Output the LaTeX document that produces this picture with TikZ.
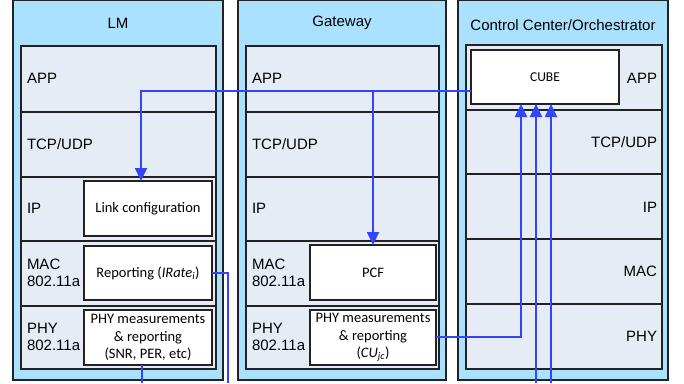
\documentclass[tikz,border=0pt]{standalone}
\usepackage{fontspec}
\setmainfont{Liberation Sans}
\newfontfamily\calibrifont{Carlito}
\usetikzlibrary{arrows.meta}
\definecolor{outerblue}{HTML}{AAE1FF}
\definecolor{innergray}{HTML}{E6ECF6}
\definecolor{connblue}{HTML}{3344FF}
\definecolor{edge}{HTML}{222222}
\tikzset{
  outerbox/.style={draw=edge, fill=outerblue, line width=1.3pt},
  rowbox/.style={draw=edge, fill=innergray, line width=1.3pt},
  lbl/.style={inner sep=0pt, outer sep=0pt, font=\fontsize{15pt}{17pt}\selectfont, align=left},
  rlbl/.style={lbl, anchor=east, align=right},
  ttl/.style={inner sep=0pt, font=\fontsize{15pt}{17pt}\selectfont},
  wbox/.style={draw=edge, fill=white, line width=1.3pt, inner sep=1pt, outer sep=0pt,
    align=center, font=\calibrifont\fontsize{14.5pt}{17.5pt}\selectfont},
  conn/.style={draw=connblue, line width=1.8pt},
  tip/.style={-{Triangle[length=13pt,width=12pt]}}
}
\begin{document}
\begin{tikzpicture}[x=1pt,y=-1pt]
\useasboundingbox (0,0) rectangle (684,383);
% outer columns
\draw[outerbox] (13,0.7) rectangle (223,380);
\draw[outerbox] (238,0.7) rectangle (446,380);
\draw[outerbox] (458,0.7) rectangle (668,380);
\node[ttl] (tlm) at (118,23) {LM};
\node[ttl] (tgw) at (342,23) {Gateway};
\node[ttl] (tcc) at (563,25) {Control Center/Orchestrator};
% LM rows
\draw[rowbox] (21,46) rectangle (216,112);
\draw[rowbox] (21,112) rectangle (216,177);
\draw[rowbox] (21,177) rectangle (216,241);
\draw[rowbox] (21,241) rectangle (216,306);
\draw[rowbox] (21,306) rectangle (216,369);
\node[lbl, anchor=west] (lmapp) at (27,78) {APP};
\node[lbl, anchor=west] (lmtcp) at (27,144) {TCP/UDP};
\node[lbl, anchor=west] (lmip) at (27,208) {IP};
\node[lbl, anchor=west] (lmmac) at (27,273) {MAC\\802.11a};
\node[lbl, anchor=west] (lmphyl) at (27,337) {PHY\\802.11a};
% Gateway rows
\draw[rowbox] (246,46) rectangle (439,112);
\draw[rowbox] (246,112) rectangle (439,177);
\draw[rowbox] (246,177) rectangle (439,241);
\draw[rowbox] (246,241) rectangle (439,306);
\draw[rowbox] (246,306) rectangle (439,369);
\node[lbl, anchor=west] (gwapp) at (252,78) {APP};
\node[lbl, anchor=west] (gwtcp) at (252,144) {TCP/UDP};
\node[lbl, anchor=west] (gwip) at (252,208) {IP};
\node[lbl, anchor=west] (gwmac) at (252,273) {MAC\\802.11a};
\node[lbl, anchor=west] (gwphyl) at (252,337) {PHY\\802.11a};
% Control rows
\draw[rowbox] (466,45) rectangle (662,110);
\draw[rowbox] (466,110) rectangle (662,174);
\draw[rowbox] (466,174) rectangle (662,239);
\draw[rowbox] (466,239) rectangle (662,304);
\draw[rowbox] (466,304) rectangle (662,369);
\node[rlbl] (ccapp) at (657,78) {APP};
\node[rlbl] (cctcp) at (657,142) {TCP/UDP};
\node[rlbl] (ccip) at (657,207) {IP};
\node[rlbl] (ccmac) at (657,271) {MAC};
\node[rlbl] (ccphy) at (657,336) {PHY};
% white boxes
\node[wbox, minimum width=128pt, minimum height=55pt] (link) at (148,208.5) {Link configuration};
\node[wbox, minimum width=128pt, minimum height=54pt] (rep) at (148,273) {Reporting (\textit{IRate}\textsubscript{\textit{i}})};
\node[wbox, minimum width=128pt, minimum height=55pt] (lmphy) at (148,337.5) {PHY measurements\\\& reporting\\(SNR, PER, etc)};
\node[wbox, minimum width=126pt, minimum height=55pt] (pcf) at (373,272.5) {PCF};
\node[wbox, minimum width=126pt, minimum height=55pt] (gwphy) at (373,337.5) {PHY measurements\\\& reporting\\(\textit{CU}\textsubscript{\textit{jc}})};
\node[wbox, minimum width=148pt, minimum height=54pt, font=\calibrifont\fontsize{13.5pt}{15pt}\selectfont] (cube) at (545,77) {CUBE};
% connectors
\coordinate (j1) at (373,91);
\coordinate (r1) at (228,383);
\coordinate (p1) at (142,383);
\coordinate (c2) at (536,383);
\coordinate (c3) at (551,383);
\draw[conn, tip] ([yshift=-14pt]cube.west) -| ([xshift=-7pt]link.north);
\draw[conn, tip] (j1) -- (pcf.north);
\draw[conn] (rep.east) -| (r1);
\draw[conn] (lmphy.south -| p1) -- (p1);
\draw[conn, tip] ([yshift=0.5pt]gwphy.east) -| ([xshift=-24pt]cube.south);
\draw[conn, tip] (c2) -- (c2 |- cube.south);
\draw[conn, tip] (c3) -- (c3 |- cube.south);
\end{tikzpicture}
\end{document}
